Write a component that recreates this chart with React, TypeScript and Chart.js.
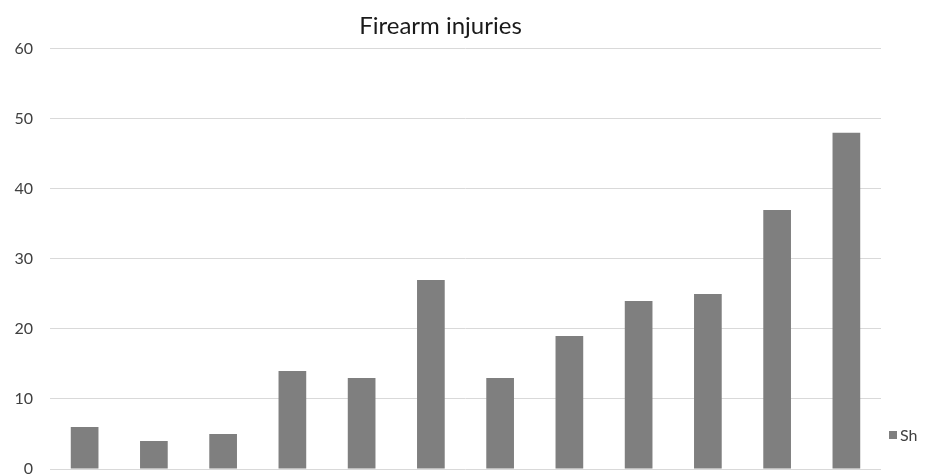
import React, { useEffect, useRef } from "react";
import { Chart, registerables } from "chart.js";

Chart.register(...registerables);

const categories = ["1", "2", "3", "4", "5", "6", "7", "8", "9", "10", "11", "12"];
const seriesName = "Sh";
const values = [6, 4, 5, 14, 13, 27, 13, 19, 24, 25, 37, 48];
const yTicks = [0, 10, 20, 30, 40, 50, 60];
const titleText = "Firearm injuries";

const FONT = "Lato, 'Open Sans', sans-serif";
const BAR = "#7f7f7f";
const TEXT = "#404040";

const legendPlugin = {
  id: "sideLegend",
  afterDraw(chart: any) {
    const ctx = chart.ctx;
    const ds = chart.data.datasets[0];
    ctx.save();
    ctx.fillStyle = ds.backgroundColor;
    ctx.fillRect(889, 431, 8, 8);
    ctx.fillStyle = TEXT;
    ctx.font = `16px ${FONT}`;
    ctx.textBaseline = "middle";
    ctx.textAlign = "left";
    ctx.fillText(ds.label, 900, 436);
    ctx.restore();
  },
};

export default function App() {
  const ref = useRef<HTMLCanvasElement | null>(null);
  useEffect(() => {
    document.body.style.margin = "0";
    document.body.style.overflow = "hidden";
    const chart = new Chart(ref.current!, {
      type: "bar",
      data: {
        labels: categories,
        datasets: [
          {
            label: seriesName,
            data: values,
            backgroundColor: BAR,
            categoryPercentage: 1,
            barPercentage: 0.4,
          },
        ],
      },
      options: {
        animation: false,
        responsive: false,
        maintainAspectRatio: false,
        layout: { padding: { left: 0, right: 51, top: 0, bottom: 21 } },
        plugins: {
          legend: { display: false },
          tooltip: { enabled: false },
          title: {
            display: true,
            text: titleText,
            color: "#1a1a1a",
            font: { family: FONT, size: 24, weight: "normal" },
            padding: { top: 12, bottom: 8 },
          },
        },
        scales: {
          x: {
            display: false,
            grid: { display: false },
          },
          y: {
            min: 0,
            max: 60,
            afterBuildTicks: (scale: any) => {
              scale.ticks = yTicks.map((v) => ({ value: v }));
            },
            afterFit: (scale: any) => {
              scale.width = 50;
              scale.paddingTop = 0;
              scale.paddingBottom = 0;
            },
            border: { display: false },
            grid: { color: "#d9d9d9", drawTicks: false, lineWidth: 1 },
            ticks: {
              color: TEXT,
              padding: 17,
              font: { family: FONT, size: 16 },
            },
          },
        },
      },
      plugins: [legendPlugin],
    });
    return () => chart.destroy();
  }, []);
  return (
    <div style={{ position: "absolute", left: 0, top: 0, width: 932, height: 490 }}>
      <canvas ref={ref} width={932} height={490} style={{ width: 932, height: 490 }} />
    </div>
  );
}
